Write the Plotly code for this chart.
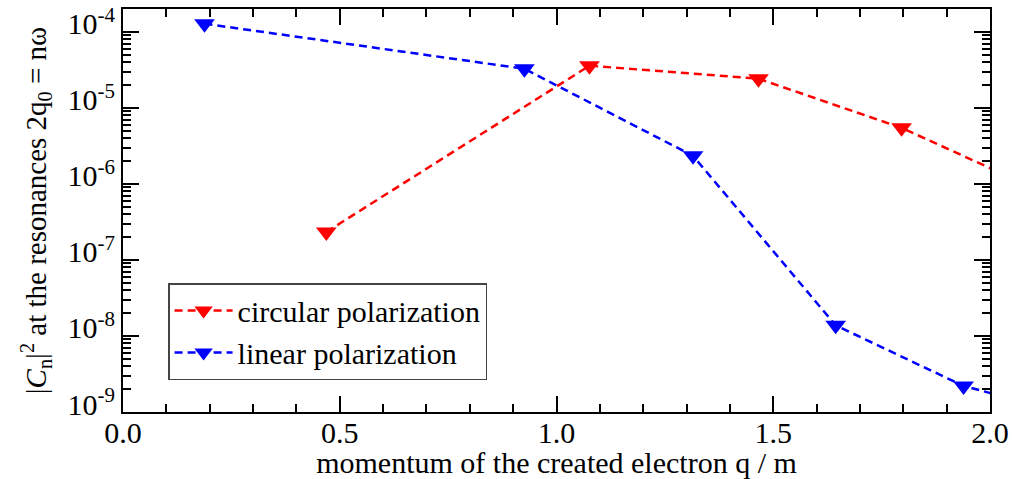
import plotly.graph_objects as go

# data
circ_q = [0.469, 1.076, 1.466, 1.796, 2.12]
circ_c = [2.33e-7, 3.59e-5, 2.42e-5, 5.47e-6, 7.9e-7]
lin_q = [0.188, 0.926, 1.315, 1.644, 1.939, 2.2]
lin_c = [1.28e-4, 3.27e-5, 2.34e-6, 1.38e-8, 2.2e-9, 8.9e-10]

x_major = [0.0, 0.5, 1.0, 1.5, 2.0]
x_major_text = ["0.0", "0.5", "1.0", "1.5", "2.0"]
x_minor = [i / 10 for i in range(0, 21)]
y_exps = [-9, -8, -7, -6, -5, -4]
y_major = [10.0 ** e for e in y_exps]
y_major_text = ["10<sup>%d</sup>" % e for e in y_exps]
y_minor = [m * 10.0 ** e for e in range(-9, -3) for m in range(2, 10)]

FONT = "Liberation Serif"

fig = go.Figure()
fig.add_trace(go.Scatter(
    x=circ_q, y=circ_c, mode="lines+markers", name="circular polarization",
    line=dict(color="#ff0000", width=2.5, dash="8px,5px"),
    marker=dict(symbol="triangle-down", size=18, color="#ff0000"),
))
fig.add_trace(go.Scatter(
    x=lin_q, y=lin_c, mode="lines+markers", name="linear polarization",
    line=dict(color="#0000ff", width=2.5, dash="8px,5px"),
    marker=dict(symbol="triangle-down", size=18, color="#0000ff"),
))

fig.update_xaxes(
    range=[0, 2.0], tickmode="array", tickvals=x_major, ticktext=x_major_text,
    showline=True, linecolor="black", linewidth=2, mirror="ticks",
    ticks="inside", ticklen=16, tickwidth=1.5, tickcolor="black",
    showgrid=False, zeroline=False, ticklabeloverflow="allow",
    ticklabelstandoff=-7,
    tickfont=dict(family=FONT, size=30, color="black"),
    minor=dict(tickmode="array", tickvals=x_minor, ticks="inside", ticklen=8,
               tickwidth=1.5, tickcolor="black", showgrid=False),
    title=dict(text="momentum of the created electron q / m",
               font=dict(family=FONT, size=30, color="black"), standoff=6),
)
fig.update_yaxes(
    type="log", range=[-9, -3.699], tickmode="array", tickvals=y_major, ticktext=y_major_text,
    showline=True, linecolor="black", linewidth=2, mirror="ticks",
    ticks="inside", ticklen=16, tickwidth=1.5, tickcolor="black",
    showgrid=False, zeroline=False, ticklabeloverflow="allow",
    ticklabelshift=-8,
    tickfont=dict(family=FONT, size=30, color="black"),
    minor=dict(tickmode="array", tickvals=y_minor, ticks="inside", ticklen=8,
               tickwidth=1.5, tickcolor="black", showgrid=False),
    title=dict(text="|<i>C</i><sub>n</sub>|<sup>2</sup> at the resonances 2q<sub>0</sub> = nω",
               font=dict(family=FONT, size=29, color="black"), standoff=12),
)

fig.update_layout(
    width=1012, height=479,
    margin=dict(l=123, r=22, t=9, b=67, autoexpand=False),
    paper_bgcolor="white", plot_bgcolor="white",
    showlegend=True,
    legend=dict(
        x=0.052, y=0.32, xanchor="left", yanchor="top",
        bgcolor="white", bordercolor="#444444", borderwidth=1.5,
        font=dict(family=FONT, size=30, color="black"),
        itemwidth=58, tracegroupgap=0,
    ),
    font=dict(family=FONT, size=30, color="black"),
)

fig.write_html("out.html")
